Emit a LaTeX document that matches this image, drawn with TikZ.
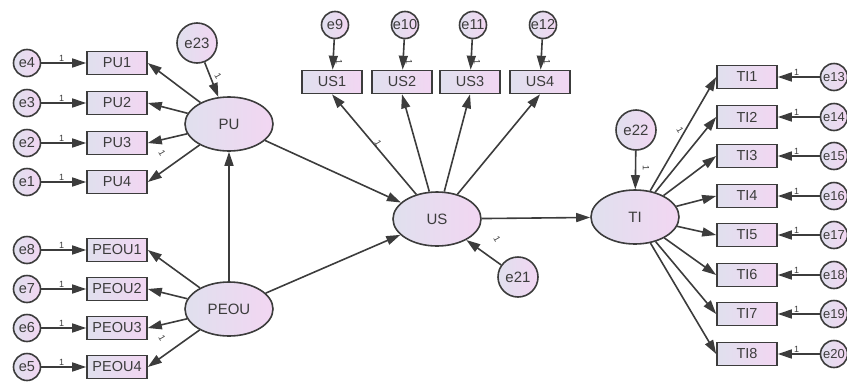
\documentclass[tikz,border=0pt]{standalone}
\usepackage{fontspec}
\setmainfont{Liberation Sans}
\usetikzlibrary{arrows.meta,shapes.geometric}
\definecolor{edgec}{HTML}{3C3C3C}
\definecolor{lcol}{HTML}{E0E0EE}
\definecolor{rcol}{HTML}{F2D6F2}
\tikzset{
  basefill/.style={draw=edgec, line width=1.6pt, left color=lcol, right color=rcol, text=edgec, inner sep=0pt},
  lat/.style={basefill, ellipse, minimum width=88pt, minimum height=54pt, font=\fontsize{15}{15}\selectfont},
  obs/.style={basefill, rectangle, minimum width=60pt, minimum height=23pt, font=\fontsize{14.5}{15}\selectfont},
  err/.style={basefill, circle, minimum size=27pt, font=\fontsize{14.5}{15}\selectfont},
  errr/.style={basefill, circle, minimum size=27pt, font=\fontsize{13}{13}\selectfont},
  errbig/.style={basefill, circle, minimum size=40pt, font=\fontsize{15}{15}\selectfont},
  arr/.style={-{Triangle[length=14pt,width=9pt]}, draw=edgec, line width=1.6pt},
  one/.style={font=\fontsize{9}{9}\selectfont, text=edgec, inner sep=1pt}
}
\begin{document}
\begin{tikzpicture}[x=1pt,y=-1pt]
\useasboundingbox (0,0) rectangle (847,381);
% latent variables
\node[lat] (PU) at (229,124) {PU};
\node[lat] (PEOU) at (229,309) {PEOU};
\node[lat] (US) at (437,219) {US};
\node[lat] (TI) at (635,217) {TI};
% big error terms
\node[errbig] (e23) at (197,43) {e23};
\node[errbig] (e21) at (518,277) {e21};
\node[errbig] (e22) at (636,130) {e22};
% PU indicators
\foreach \n/\e/\y in {1/4/63, 2/3/103, 3/2/143, 4/1/182}{
  \node[obs] (PU\n) at (117,\y) {PU\n};
  \node[err] (e\e) at (27,\y) {e\e};
  \draw[arr] (e\e) -- node[one, above, pos=0.45] {1} (PU\n);
  \draw[arr] (PU) -- (PU\n.east);
}
% PEOU indicators
\foreach \n/\e/\y in {1/8/250, 2/7/289, 3/6/328, 4/5/367}{
  \node[obs] (PEOU\n) at (117,\y) {PEOU\n};
  \node[err] (e\e) at (27,\y) {e\e};
  \draw[arr] (e\e) -- node[one, above, pos=0.45] {1} (PEOU\n);
  \draw[arr] (PEOU) -- (PEOU\n.east);
}
% US indicators
\foreach \n/\e/\x in {1/9/332, 2/10/402, 3/11/470, 4/12/540}{
  \node[obs] (US\n) at (\x,82) {US\n};
  \node[err] (e\e) at (\x+3,25) {e\e};
  \draw[arr] (e\e) -- node[one, right, pos=0.75, xshift=1pt] {\rotatebox{-90}{1}} (US\n);
  \draw[arr] (US) -- (US\n.south);
}
% TI indicators
\foreach \n/\e/\y in {1/13/77, 2/14/117, 3/15/156, 4/16/196, 5/17/235, 6/18/275, 7/19/314, 8/20/354}{
  \node[obs] (TI\n) at (747,\y) {TI\n};
  \node[errr] (e\e) at (834,\y) {e\e};
  \draw[arr] (e\e) -- node[one, above, pos=0.55] {1} (TI\n);
  \draw[arr] (TI) -- (TI\n.west);
}
% structural paths
\draw[arr] (PEOU) -- (PU);
\draw[arr] (PU) -- (US);
\draw[arr] (PEOU) -- (US);
\draw[arr] (US) -- (TI);
\draw[arr] (e23) -- (PU);
\draw[arr] (e21) -- (US);
\draw[arr] (e22) -- (TI);
% loading labels
\node[one, rotate=-60] (l0) at (218,76) {1};
\node[one, rotate=-60] (l5) at (497,239) {1};
\node[one, rotate=-90] (l6) at (646,168) {1};
\node[one, rotate=-60] (l1) at (162,153) {1};
\node[one, rotate=-60] (l2) at (162,338) {1};
\node[one, rotate=-60] (l3) at (378,143) {1};
\node[one, rotate=-60] (l4) at (680,130) {1};
\end{tikzpicture}
\end{document}
